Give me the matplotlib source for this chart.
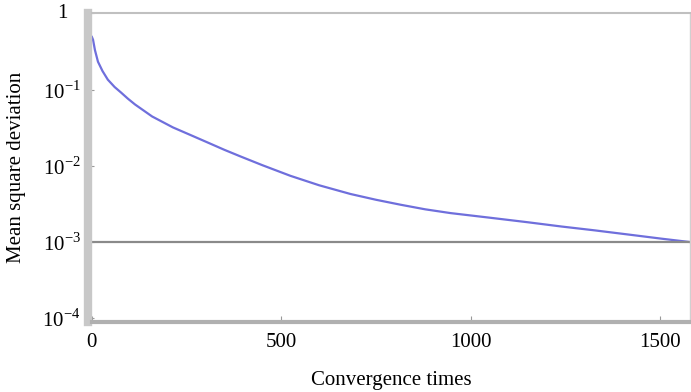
import matplotlib
matplotlib.use('Agg')
import matplotlib.pyplot as plt
from matplotlib.ticker import FixedLocator, FixedFormatter, LogLocator, NullFormatter

plt.rcParams['font.family'] = 'Liberation Serif'
plt.rcParams['mathtext.fontset'] = 'custom'
plt.rcParams['mathtext.rm'] = 'Liberation Serif'

# Данные
iterations = [0, 3, 8, 16, 28, 42, 60, 77, 95, 114, 159, 214, 260, 304, 350, 392,
              450, 524, 600, 683, 750, 815, 880, 947, 1050, 1151, 1240, 1325,
              1420, 1503, 1580]
msd = [0.49, 0.45, 0.33, 0.232, 0.175, 0.135, 0.108, 0.0914, 0.076, 0.0637,
       0.0444, 0.0319, 0.0254, 0.0204, 0.0162, 0.0133, 0.0102, 0.0074, 0.00556,
       0.00427, 0.00359, 0.00309, 0.00269, 0.0024, 0.00209, 0.00182, 0.0016,
       0.00143, 0.00125, 0.00111, 0.00100]
threshold = 1e-3

x_ticks = [0, 500, 1000, 1500]
y_ticks = [1e-4, 1e-3, 1e-2, 1e-1, 1]
y_tick_labels = ['$10^{-4}$', '$10^{-3}$', '$10^{-2}$', '$10^{-1}$', '']
top_label = '1'

fig = plt.figure(figsize=(6.91, 3.92), dpi=100)
ax = fig.add_axes([0.133, 0.179, 0.866, 0.787])

ax.plot(iterations, msd, color='#6f6fdc', lw=1.6)
ax.axhline(threshold, color='#8a8a8a', lw=1.6)

ax.set_yscale('log')
ax.set_xlim(0, 1580)
ax.set_ylim(9e-5, 1.0)

ax.yaxis.set_major_locator(FixedLocator(y_ticks))
ax.yaxis.set_major_formatter(FixedFormatter(y_tick_labels))
ax.yaxis.set_minor_locator(LogLocator(base=10, subs=range(2, 10)))
ax.yaxis.set_minor_formatter(NullFormatter())
ax.set_xticks(x_ticks)

ax.tick_params(axis='both', direction='in', labelsize=15, colors='#999999',
               labelcolor='black', length=4, width=0.8)
ax.tick_params(axis='y', which='minor', direction='in', length=2, colors='#bbbbbb')
ax.tick_params(axis='x', pad=8)
ax.tick_params(axis='y', pad=5)

# метка "1" стоит левее остальных, как в оригинале
ax.text(-0.049, y_ticks[-1], top_label, transform=ax.get_yaxis_transform(),
        ha='center', va='center', fontsize=15)

# Рамка: толстые серые полосы слева и снизу
ax.spines['left'].set_color('#c8c8c8')
ax.spines['left'].set_linewidth(6)
ax.spines['left'].set_position(('outward', 3))
ax.spines['bottom'].set_color('#b0b0b0')
ax.spines['bottom'].set_linewidth(3)
ax.spines['top'].set_color('#c0c0c0')
ax.spines['top'].set_linewidth(1.5)
ax.spines['right'].set_color('#d0d0d0')
ax.spines['right'].set_linewidth(1)

ax.set_xlabel('Convergence times', fontsize=15, labelpad=14)
ax.set_ylabel('Mean square deviation', fontsize=15, labelpad=12)

plt.savefig('out.png', dpi=100)
